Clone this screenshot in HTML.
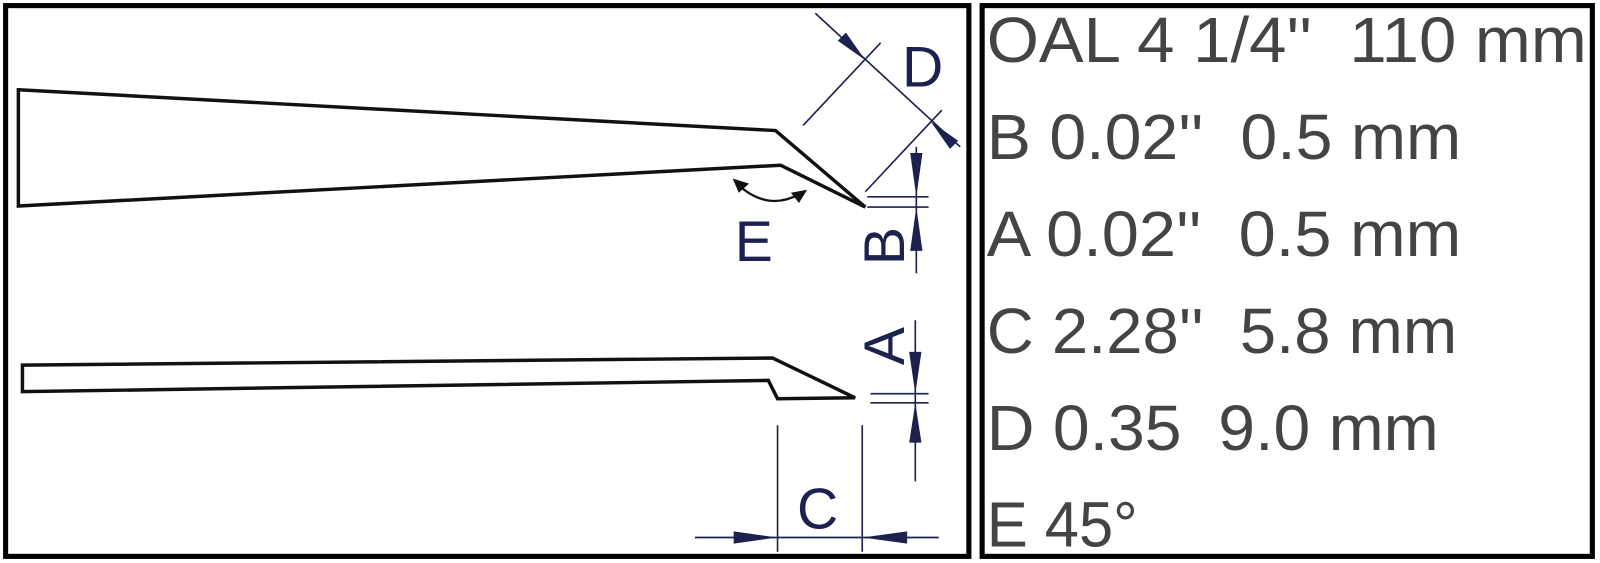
<!DOCTYPE html>
<html><head><meta charset="utf-8"><style>
html,body{margin:0;padding:0;background:#fff;}
svg{display:block}
text{white-space:pre}
</style></head><body>
<svg width="1600" height="563" viewBox="0 0 1568 552" preserveAspectRatio="none" xmlns="http://www.w3.org/2000/svg">
<rect x="0" y="0" width="1568" height="552" fill="#fff"/>
<rect x="5.5" y="5.5" width="944" height="540" fill="none" stroke="#000" stroke-width="5"/>
<rect x="962.5" y="5.5" width="598" height="540" fill="none" stroke="#000" stroke-width="5"/>

<!-- tweezers -->
<polygon points="18,88 760,128 848,203 765,162 18,202" fill="none" stroke="#111" stroke-width="3.4" stroke-linejoin="miter"/>
<polygon points="22,358 757,351 838,390 762,391 753,373 22,384" fill="none" stroke="#111" stroke-width="3.4"/>

<g stroke="#1c2150" stroke-width="1.6" fill="#1c2150">
<!-- D -->
<line x1="787" y1="123" x2="863" y2="42"/>
<line x1="848" y1="188" x2="923" y2="108"/>
<line x1="799" y1="13" x2="941" y2="144"/>
<polygon points="848,59 821,40 829,32" stroke="none"/>
<polygon points="912,119 939,138 931,146" stroke="none"/>
<!-- B -->
<line x1="850" y1="193" x2="910" y2="193"/>
<line x1="850" y1="203" x2="910" y2="203"/>
<line x1="898" y1="144" x2="898" y2="268"/>
<polygon points="898,193 892,150 904,150" stroke="none"/>
<polygon points="898,203 892,246 904,246" stroke="none"/>
<!-- A -->
<line x1="853" y1="386" x2="910" y2="386"/>
<line x1="853" y1="395" x2="910" y2="395"/>
<line x1="897" y1="314" x2="897" y2="472"/>
<polygon points="897,386 891,345 903,345" stroke="none"/>
<polygon points="897,395 891,434 903,434" stroke="none"/>
<!-- C -->
<line x1="762" y1="417" x2="762" y2="541"/>
<line x1="845" y1="417" x2="845" y2="541"/>
<line x1="681" y1="527" x2="920" y2="527"/>
<polygon points="762,527 719,521 719,533" stroke="none"/>
<polygon points="845,527 889,521 889,533" stroke="none"/>
</g>
<!-- E arc -->
<path d="M722,180 Q752,208 784,190" fill="none" stroke="#111" stroke-width="2.2"/>
<polygon points="718,175 734,180 724,189" fill="#111"/>
<polygon points="791,186 783,199 775,189" fill="#111"/>

<g font-family="Liberation Sans, DejaVu Sans, sans-serif" fill="#1c2150" font-size="56">
<text x="884" y="85">D</text>
<text x="720" y="256">E</text>
<text x="781" y="518">C</text>
<text transform="translate(886,260) rotate(-90)">B</text>
<text transform="translate(886,358) rotate(-90)">A</text>
</g>

<g font-family="Liberation Sans, DejaVu Sans, sans-serif" fill="#444" font-size="63">
<text x="967" y="61" textLength="588" lengthAdjust="spacingAndGlyphs">OAL 4 1/4''  110 mm</text>
<text x="967" y="156" textLength="465" lengthAdjust="spacingAndGlyphs">B 0.02''  0.5 mm</text>
<text x="967" y="251" textLength="465" lengthAdjust="spacingAndGlyphs">A 0.02''  0.5 mm</text>
<text x="967" y="346" textLength="461" lengthAdjust="spacingAndGlyphs">C 2.28''  5.8 mm</text>
<text x="967" y="441" textLength="443" lengthAdjust="spacingAndGlyphs">D 0.35  9.0 mm</text>
<text x="967" y="536" textLength="148" lengthAdjust="spacingAndGlyphs">E 45°</text>
</g>
</svg>
</body></html>
